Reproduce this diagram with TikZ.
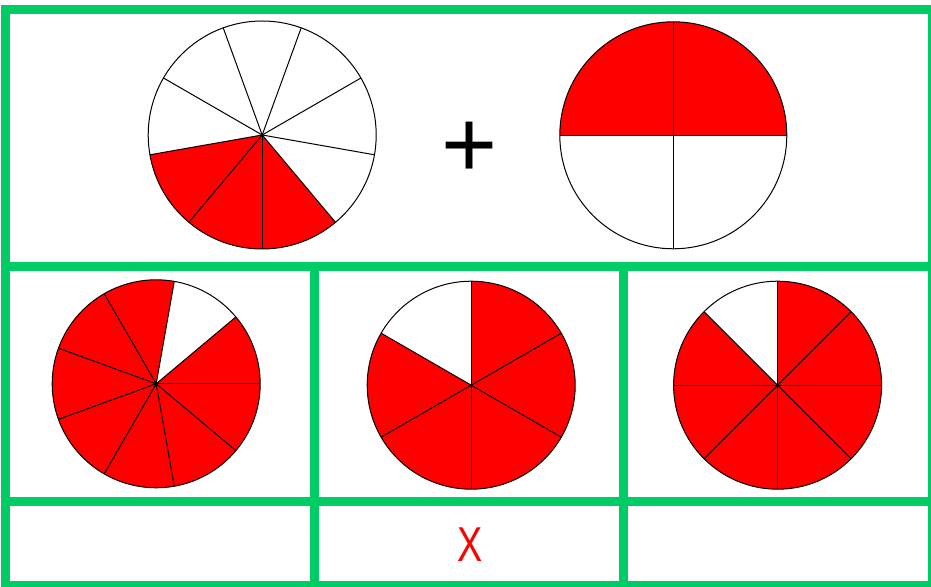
\documentclass[tikz,border=0pt]{standalone}
\usepackage{fontspec}
\setmainfont{Liberation Sans}
\definecolor{framegreen}{RGB}{0,204,102}
\definecolor{slicered}{RGB}{255,0,0}
\begin{document}
\begin{tikzpicture}[x=1pt, y=1pt, line width=1pt]
  \useasboundingbox (0,0) rectangle (931,586);
  \clip (0,0) rectangle (931,586);
  % upper row: 3/9 + 2/4
  \fill[slicered] (262.2,451) -- ++(190:114) arc[start angle=190, end angle=310, radius=114] -- cycle;
  \draw (262.2,451) circle[radius=114];
  \foreach \a in {30,70,...,350} \draw (262.2,451) -- ++(\a:114);
  \fill[slicered] (673.3,450.7) -- ++(0:113.5) arc[start angle=0, end angle=180, radius=113.5] -- cycle;
  \draw (673.3,450.7) circle[radius=113.5];
  \foreach \a in {0,90,180,270} \draw (673.3,450.7) -- ++(\a:113.5);
  \node[anchor=base, inner sep=0pt, font=\fontsize{96}{96}\selectfont] (plus) at (469.5,408.2) {+};
  % lower row: 8/9, 5/6, 7/8
  \fill[slicered] (156.2,202.2) -- ++(80:104) arc[start angle=80, end angle=400, radius=104] -- cycle;
  \draw (156.2,202.2) circle[radius=104];
  \foreach \a in {0,40,...,320} \draw (156.2,202.2) -- ++(\a:104);
  \fill[slicered] (471.2,200.8) -- ++(150:104) arc[start angle=150, end angle=450, radius=104] -- cycle;
  \draw (471.2,200.8) circle[radius=104];
  \foreach \a in {30,90,...,330} \draw (471.2,200.8) -- ++(\a:104);
  \fill[slicered] (777.6,200.8) -- ++(135:104) arc[start angle=135, end angle=450, radius=104] -- cycle;
  \draw (777.6,200.8) circle[radius=104];
  \foreach \a in {0,45,...,315} \draw (777.6,200.8) -- ++(\a:104);
  \node[anchor=base, inner sep=0pt, xscale=0.77, text=slicered, font=\fontsize{49}{49}\selectfont] (cross) at (470,24) {X};
  % green grid
  \draw[framegreen, line width=9pt] (5.5,576.5) rectangle (932.5,0.8);
  \draw[framegreen, line width=9pt] (5.5,319) -- (932.5,319);
  \draw[framegreen, line width=9pt] (5.5,84) -- (932.5,84);
  \draw[framegreen, line width=9pt] (314.5,319) -- (314.5,0.8);
  \draw[framegreen, line width=9pt] (623,319) -- (623,0.8);
\end{tikzpicture}
\end{document}
